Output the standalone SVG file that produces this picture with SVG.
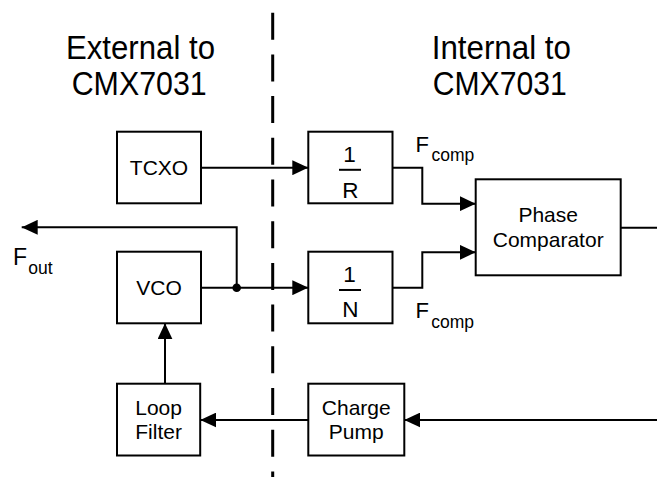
<svg xmlns="http://www.w3.org/2000/svg" width="657" height="477" viewBox="0 0 657 477">
  <style>
    .box { fill: #fff; stroke: #000; stroke-width: 2; }
    .wire { fill: none; stroke: #000; stroke-width: 2; }
    .arr { marker-end: url(#ah); }
    text { font-family: "Liberation Sans", Arial, sans-serif; fill: #000; }
    .lbl { font-size: 21px; text-anchor: middle; }
    .frac { font-size: 22.5px; text-anchor: middle; }
    .head { font-size: 33px; }
    .sub { font-size: 17.5px; }
  </style>
  <defs>
    <marker id="ah" viewBox="0 0 16 15" refX="16" refY="7.5" markerWidth="16" markerHeight="15" markerUnits="userSpaceOnUse" orient="auto">
      <path d="M0,0 L16,7.5 L0,15 z" fill="#000"/>
    </marker>
  </defs>
  <rect width="657" height="477" fill="#fff"/>

  <g id="boundary">
    <line x1="272.7" y1="12.7" x2="272.7" y2="477" stroke="#000" stroke-width="3" stroke-dasharray="27 14.7"/>
  </g>

  <g id="headings">
    <text class="head" x="66" y="59" textLength="149" lengthAdjust="spacingAndGlyphs">External to</text>
    <text class="head" x="71.7" y="95" textLength="135" lengthAdjust="spacingAndGlyphs">CMX7031</text>
    <text class="head" x="431.7" y="59" textLength="139.3" lengthAdjust="spacingAndGlyphs">Internal to</text>
    <text class="head" x="432.7" y="95" textLength="134" lengthAdjust="spacingAndGlyphs">CMX7031</text>
  </g>

  <g id="connectors">
    <line class="wire arr" x1="201" y1="167.7" x2="308.3" y2="167.7"/>
    <line class="wire arr" x1="201" y1="287.7" x2="308.3" y2="287.7"/>
    <polyline class="wire arr" points="236.7,287.7 236.7,227.3 21.7,227.3"/>
    <circle cx="236.7" cy="287.7" r="4.3" fill="#000"/>
    <polyline class="wire arr" points="392.5,167.7 422.3,167.7 422.3,203.7 475.7,203.7"/>
    <polyline class="wire arr" points="392.5,287.7 422.3,287.7 422.3,252.3 475.7,252.3"/>
    <line class="wire" x1="620.7" y1="227.7" x2="657" y2="227.7"/>
    <line class="wire arr" x1="657" y1="420" x2="404.3" y2="420"/>
    <line class="wire arr" x1="308.5" y1="420" x2="200.3" y2="420"/>
    <line class="wire arr" x1="165" y1="383.7" x2="165" y2="323.3"/>
  </g>

  <g id="tcxo">
    <rect class="box" x="117" y="131.7" width="84" height="71.6"/>
    <text class="lbl" x="159" y="174.5">TCXO</text>
  </g>

  <g id="vco">
    <rect class="box" x="117" y="251.7" width="84" height="71.6"/>
    <text class="lbl" x="159" y="294.5">VCO</text>
  </g>

  <g id="loop-filter">
    <rect class="box" x="117" y="383.7" width="83.2" height="71.8"/>
    <text class="lbl" x="158.6" y="415">Loop</text>
    <text class="lbl" x="158.6" y="439.3">Filter</text>
  </g>

  <g id="div-r">
    <rect class="box" x="308.3" y="131.7" width="84.2" height="71.6"/>
    <text class="frac" x="349.5" y="162.3">1</text>
    <line x1="339" y1="169.8" x2="361" y2="169.8" stroke="#000" stroke-width="2"/>
    <text class="frac" x="350.3" y="197.7">R</text>
  </g>

  <g id="div-n">
    <rect class="box" x="308.3" y="251.7" width="84.2" height="71.6"/>
    <text class="frac" x="349.5" y="281.8">1</text>
    <line x1="339" y1="290" x2="361" y2="290" stroke="#000" stroke-width="2"/>
    <text class="frac" x="350.3" y="317">N</text>
  </g>

  <g id="phase-comparator">
    <rect class="box" x="475.7" y="179.3" width="145" height="96"/>
    <text class="lbl" x="548.2" y="221.7">Phase</text>
    <text class="lbl" x="548.2" y="246.7">Comparator</text>
  </g>

  <g id="charge-pump">
    <rect class="box" x="308.3" y="383.7" width="96" height="71.8"/>
    <text class="lbl" x="356.3" y="415">Charge</text>
    <text class="lbl" x="356.3" y="439.3">Pump</text>
  </g>

  <g id="signal-labels">
    <text x="415.5" y="151.7" font-size="22">F<tspan class="sub" x="431.5" y="160.5">comp</tspan></text>
    <text x="415.5" y="318.3" font-size="22">F<tspan class="sub" x="431.3" y="327.5">comp</tspan></text>
    <text x="13" y="265" font-size="23">F<tspan class="sub" x="28.3" y="274">out</tspan></text>
  </g>
</svg>
